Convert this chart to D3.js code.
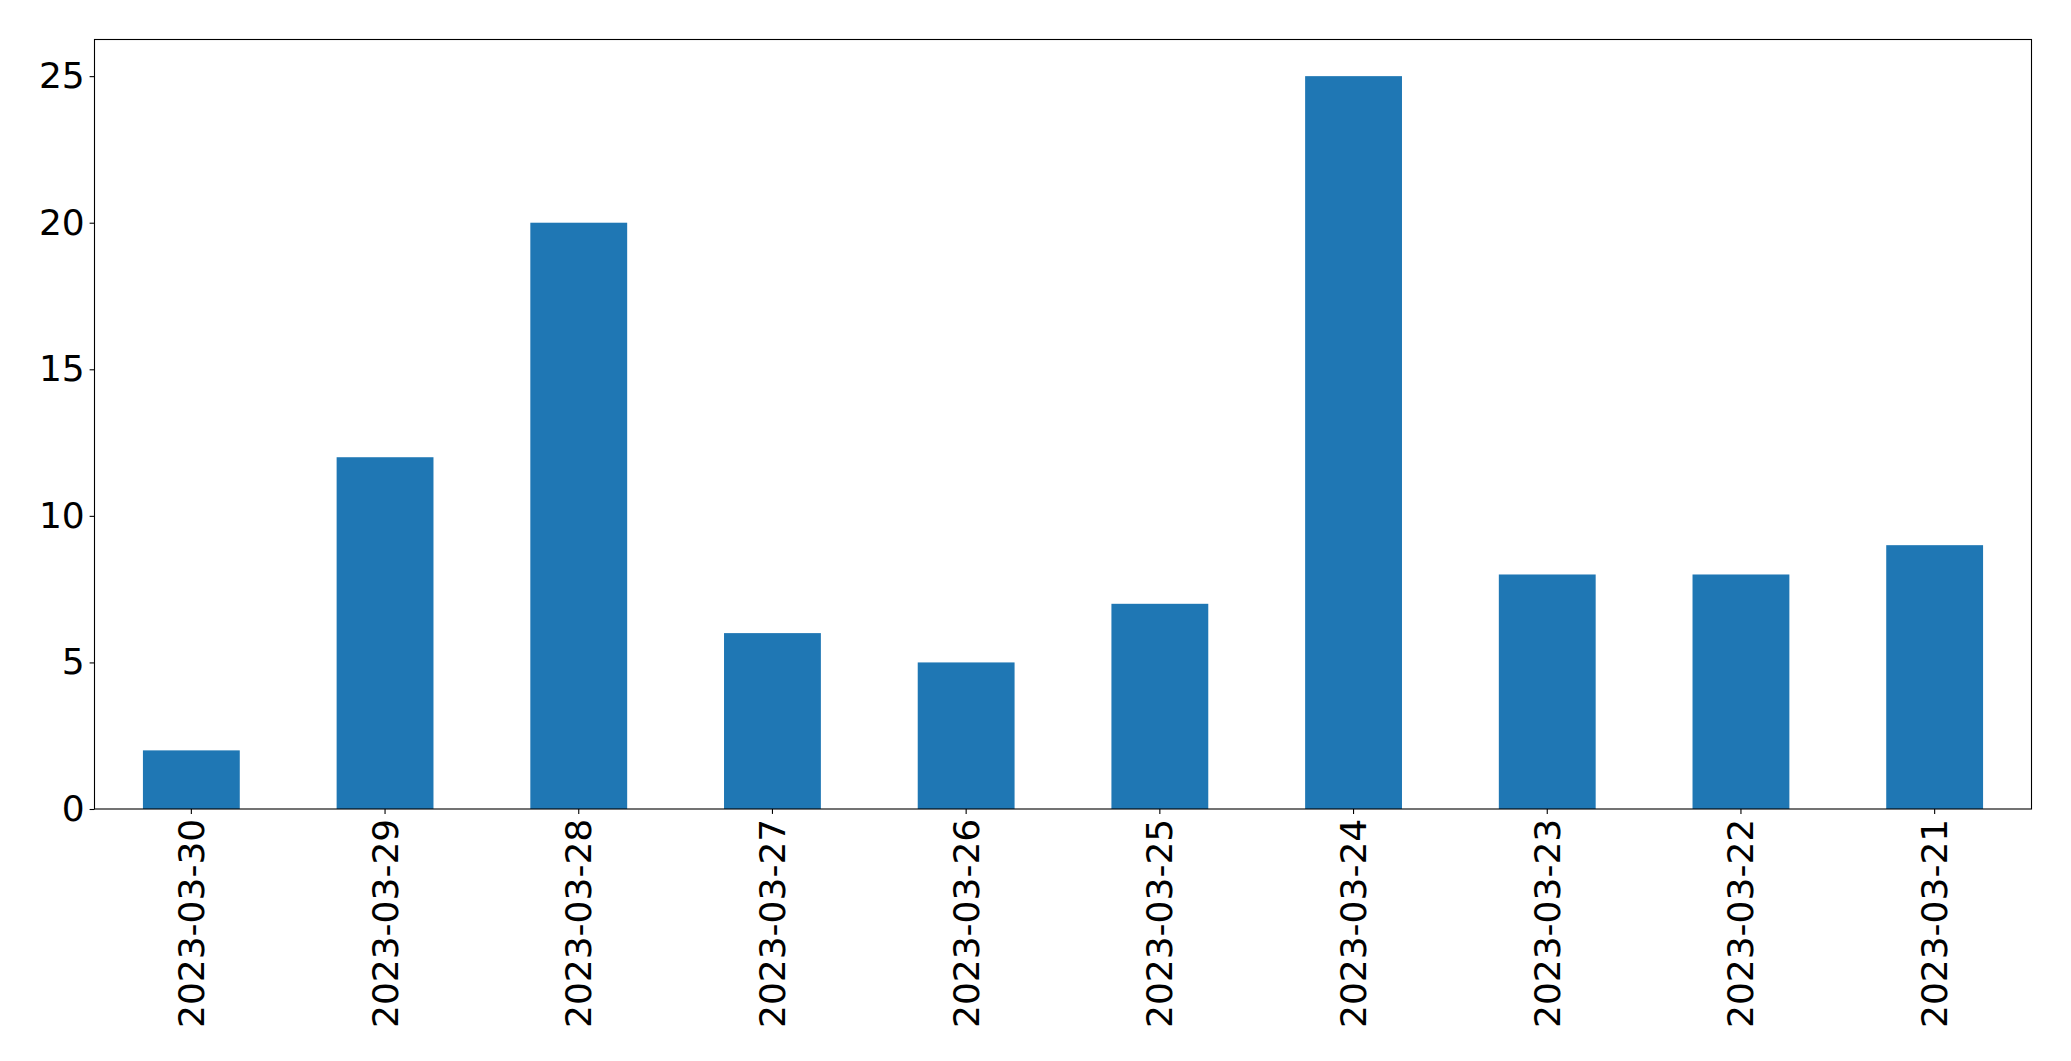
<!DOCTYPE html>
<html>
<head>
<meta charset="utf-8">
<script src="https://cdn.jsdelivr.net/npm/d3@7"></script>
<style>
  html, body { margin: 0; padding: 0; background: #fff; }
  svg { display: block; }
  text { font-family: "DejaVu Sans", sans-serif; fill: #000; }
</style>
</head>
<body>
<svg id="chart" width="2071" height="1061"></svg>
<script>
const categories = ["2023-03-30","2023-03-29","2023-03-28","2023-03-27","2023-03-26","2023-03-25","2023-03-24","2023-03-23","2023-03-22","2023-03-21"];
const values = [2, 12, 20, 6, 5, 7, 25, 8, 8, 9];
const yTicks = [0, 5, 10, 15, 20, 25];

const W = 2071, H = 1061;
const margin = { left: 94.5, right: W - 2031.5, top: 39.5, bottom: H - 809 };
const svg = d3.select("#chart");
const plotW = W - margin.left - margin.right;
const plotH = H - margin.top - margin.bottom;
const g = svg.append("g").attr("transform", `translate(${margin.left},${margin.top})`);

const x = d3.scaleBand().domain(categories).range([0, plotW]).paddingInner(0.5).paddingOuter(0.25);
const y = d3.scaleLinear().domain([0, d3.max(values) * 1.05]).range([plotH, 0]);

g.selectAll("rect.bar").data(values).enter().append("rect")
  .attr("class", "bar")
  .attr("x", (d, i) => x(categories[i]))
  .attr("width", x.bandwidth())
  .attr("y", d => y(d))
  .attr("height", d => y(0) - y(d))
  .attr("fill", "#1f77b4");

const tickLen = 4.9, pad = 4.9, fs = 36;

const yAxis = d3.axisLeft(y).tickValues(yTicks).tickSize(tickLen).tickPadding(pad).tickFormat(d3.format("d"));
const ya = g.append("g").call(yAxis);
ya.select(".domain").remove();
ya.selectAll(".tick line").attr("stroke", "#000").attr("stroke-width", 1.1);
ya.selectAll(".tick text").attr("font-size", fs).attr("font-family", "DejaVu Sans").attr("fill", "#000");

const xAxis = d3.axisBottom(x).tickSize(tickLen).tickPadding(pad);
const xa = g.append("g").attr("transform", `translate(0,${plotH})`).call(xAxis);
xa.select(".domain").remove();
xa.selectAll(".tick line").attr("stroke", "#000").attr("stroke-width", 1.1);
xa.selectAll(".tick text")
  .attr("font-size", fs).attr("font-family", "DejaVu Sans").attr("fill", "#000")
  .attr("dy", null)
  .attr("y", 0)
  .attr("text-anchor", "end")
  .attr("dominant-baseline", "central")
  .attr("transform", `translate(0,${tickLen + pad}) rotate(-90)`);

g.append("rect")
  .attr("x", 0).attr("y", 0).attr("width", plotW).attr("height", plotH)
  .attr("fill", "none").attr("stroke", "#000").attr("stroke-width", 1.1);
</script>
</body>
</html>
